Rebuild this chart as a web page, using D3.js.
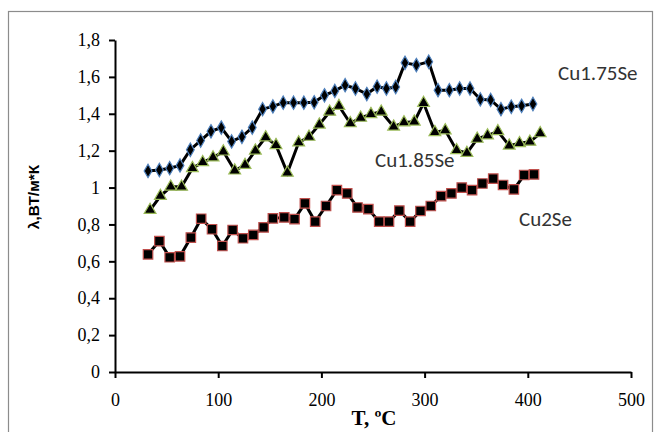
<!DOCTYPE html>
<html>
<head>
<meta charset="utf-8">
<script src="https://cdn.jsdelivr.net/npm/d3@7"></script>
<style>
	body { margin: 0; background: #ffffff; }
	svg { display: block; }
</style>
</head>
<body>
<script>
// Temperature (T, C) and thermal conductivity for each sample
var tCu175 = [32, 43, 53, 63, 73, 83, 93, 103, 113, 123, 133, 143, 153, 163, 173, 183, 193, 203, 213, 223,
	233, 244, 254, 263, 272, 281, 292, 304, 313, 324, 334, 344, 354, 364, 374, 384, 394, 405];
var lamCu175 = [1.09, 1.095, 1.105, 1.12, 1.205, 1.255, 1.305, 1.325, 1.25, 1.275, 1.325, 1.425, 1.44, 1.46, 1.46, 1.46, 1.462, 1.5, 1.524, 1.555,
	1.537, 1.507, 1.547, 1.537, 1.545, 1.676, 1.664, 1.682, 1.528, 1.528, 1.537, 1.537, 1.478, 1.475, 1.425, 1.438, 1.443, 1.453];

var tCu185 = [34, 44, 54, 64.5, 75, 85, 95, 105, 116, 126, 136, 146, 156, 167, 178, 188, 198, 208, 217, 228,
	238, 248, 258, 270, 280, 290, 299, 310, 320, 331, 341, 351, 361, 371, 382, 392, 402, 412];
var lamCu185 = [0.878, 0.954, 1.004, 1.004, 1.105, 1.137, 1.163, 1.195, 1.092, 1.122, 1.2, 1.272, 1.23, 1.08, 1.244, 1.275, 1.341, 1.411, 1.442, 1.348,
	1.378, 1.398, 1.411, 1.33, 1.353, 1.357, 1.458, 1.3, 1.31, 1.202, 1.187, 1.264, 1.282, 1.305, 1.227, 1.24, 1.248, 1.294];

var tCu2 = [32, 43, 53, 63, 73.5, 83.5, 94, 104, 114, 124, 134, 144, 153, 164, 174, 184, 194, 204.5, 215, 225,
	235, 245.5, 256, 265.5, 275.5, 286, 296, 306, 316, 326, 336, 346, 356, 366.5, 376, 386.5, 396.5, 406];
var lamCu2 = [0.638, 0.71, 0.622, 0.627, 0.729, 0.831, 0.774, 0.683, 0.77, 0.725, 0.743, 0.784, 0.833, 0.838, 0.829, 0.914, 0.815, 0.9, 0.986, 0.968,
	0.892, 0.883, 0.815, 0.815, 0.875, 0.815, 0.873, 0.9, 0.954, 0.968, 1.0, 0.986, 1.022, 1.048, 1.014, 0.99, 1.068, 1.071];

var xTicks = [0, 100, 200, 300, 400, 500];
var yTicks = [0, 0.2, 0.4, 0.6, 0.8, 1, 1.2, 1.4, 1.6, 1.8];
var seriesNames = ["Cu1.75Se", "Cu1.85Se", "Cu2Se"];

var width = 655,
	height = 432;

var svg = d3.select("body").append("svg")
	.attr("width", width)
	.attr("height", height);

// chart area border
svg.append("rect")
	.attr("x", 8.5)
	.attr("y", 11.5)
	.attr("width", 644)
	.attr("height", 440)
	.attr("fill", "none")
	.attr("stroke", "#8c8c8c")
	.attr("stroke-width", 1.2);

var x = d3.scaleLinear().domain([0, 500]).range([115, 631]);
var y = d3.scaleLinear().domain([0, 1.8]).range([372, 40]);

var fmtY = function(d) { return d === 0 || d === 1 ? String(d) : d3.format(".1f")(d).replace(".", ","); };

// axes
var xAxis = svg.append("g")
	.attr("transform", "translate(0," + y(0) + ")")
	.call(d3.axisBottom(x).tickValues(xTicks).tickSize(6).tickPadding(15).tickSizeOuter(0));
var yAxis = svg.append("g")
	.attr("transform", "translate(" + x(0) + ",0)")
	.call(d3.axisLeft(y).tickValues(yTicks).tickFormat(fmtY).tickSize(6).tickPadding(9).tickSizeOuter(0));

[xAxis, yAxis].forEach(function(ax) {
	ax.select(".domain").attr("stroke", "#000").attr("stroke-width", 2);
	ax.selectAll(".tick line").attr("stroke", "#000").attr("stroke-width", 2);
	ax.selectAll(".tick text")
		.attr("fill", "#000")
		.style("font-family", "'Liberation Serif', 'Times New Roman', serif")
		.style("font-size", "18px");
});

// axis titles
svg.append("text")
	.attr("transform", "translate(39,197) rotate(-90)")
	.attr("text-anchor", "middle")
	.style("font-family", "'Liberation Sans', Arial, sans-serif")
	.style("font-weight", "bold")
	.style("font-size", "15.5px")
	.text("λ,ВТ/м*К");

svg.append("text")
	.attr("x", 374)
	.attr("y", 425)
	.attr("text-anchor", "middle")
	.style("font-family", "'Liberation Serif', 'Times New Roman', serif")
	.style("font-weight", "bold")
	.style("font-size", "21px")
	.text("T, ºC");

// series
var series = [
	{ t: tCu175, v: lamCu175, shape: d3.symbolDiamond, size: 52, edge: "#4f81bd" },
	{ t: tCu185, v: lamCu185, shape: d3.symbolTriangle, size: 60, edge: "#9bbb59" },
	{ t: tCu2, v: lamCu2, shape: d3.symbolSquare, size: 90, edge: "#c0504d" }
];

var line = d3.line()
	.x(function(d) { return x(d[0]); })
	.y(function(d) { return y(d[1]); });

series.forEach(function(s) {
	var pts = s.t.map(function(t, i) { return [t, s.v[i]]; });
	svg.append("path")
		.datum(pts)
		.attr("d", line)
		.attr("fill", "none")
		.attr("stroke", "#000")
		.attr("stroke-width", 3);
	svg.append("g").selectAll("path")
		.data(pts)
		.enter()
		.append("path")
		.attr("transform", function(d) { return "translate(" + x(d[0]) + "," + y(d[1]) + ")"; })
		.attr("d", d3.symbol().type(s.shape).size(s.size))
		.attr("fill", "#000")
		.attr("stroke", s.edge)
		.attr("stroke-width", 1.2);
});

// series labels
var labelPos = [[558, 80], [375, 167], [519, 226]];
svg.selectAll(".lbl")
	.data(seriesNames)
	.enter()
	.append("text")
	.attr("x", function(d, i) { return labelPos[i][0]; })
	.attr("y", function(d, i) { return labelPos[i][1]; })
	.style("font-family", "Carlito, Calibri, Lato, sans-serif")
	.style("font-size", "21px")
	.attr("fill", "#333")
	.text(function(d) { return d; });
</script>
</body>
</html>
